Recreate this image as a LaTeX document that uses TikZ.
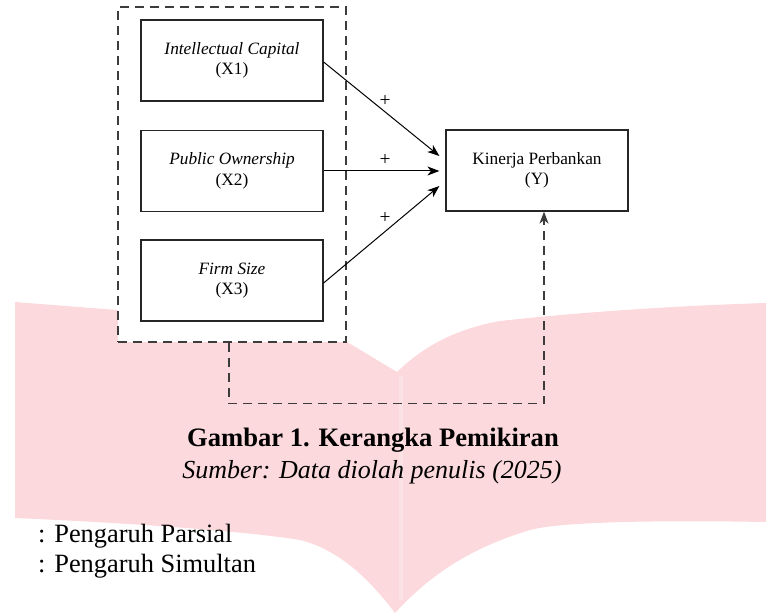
\documentclass[tikz,border=0pt]{standalone}
\usepackage{fontspec}
\setmainfont{Liberation Serif}
\usetikzlibrary{arrows.meta,calc}
\definecolor{wmpink}{RGB}{252,217,220}
\definecolor{wmspine}{RGB}{250,226,229}
\definecolor{dashgray}{RGB}{60,60,60}
\tikzset{
  varbox/.style={draw=black!85, line width=1.2pt, minimum width=182pt, minimum height=81pt,
    inner sep=0pt, align=center, font=\fontsize{17.3}{20.5}\selectfont},
  arr/.style={line width=1pt, -{Stealth[length=12pt,width=9pt,inset=3.5pt]}},
  dashln/.style={draw=dashgray, line width=1.3pt, dash pattern=on 9pt off 6pt},
  plus/.style={font=\fontsize{19.5}{22}\selectfont, inner sep=0pt},
  capt/.style={anchor=base, inner sep=0pt},
  legend/.style={anchor=base west, inner sep=0pt, font=\fontsize{26.4}{30}\selectfont},
}
\begin{document}
\begin{tikzpicture}[x=1pt,y=-1pt]
\useasboundingbox (0,0) rectangle (766,615);
% watermark (open book)
\fill[wmpink] (15,302) -- (117,310) .. controls (250,325) and (330,335) .. (347,342)
  -- (397,372) .. controls (420,350) and (450,330) .. (500,321)
  .. controls (600,310) and (700,305) .. (766,303) -- (766,522)
  .. controls (650,520) and (560,522) .. (530,530)
  .. controls (470,548) and (430,575) .. (395,613)
  .. controls (370,580) and (340,550) .. (300,540)
  .. controls (250,532) and (150,524) .. (15,518) -- cycle;
\draw[wmspine, line width=4pt] (401,376) -- (401,600);
% group box
\node[dashln, fill=white, minimum width=228pt, minimum height=335pt, inner sep=0pt] (grp) at (232,174.5) {};
% variable boxes
\node[varbox] (x1) at (232,60.5) {\raisebox{-4pt}{\begin{tabular}{@{}c@{}}\itshape Intellectual Capital\\(X1)\end{tabular}}};
\node[varbox] (x2) at (232,171) {\raisebox{-4pt}{\begin{tabular}{@{}c@{}}\itshape Public Ownership\\(X2)\end{tabular}}};
\node[varbox] (x3) at (232,280.5) {\raisebox{-4pt}{\begin{tabular}{@{}c@{}}\itshape Firm Size\\(X3)\end{tabular}}};
\node[varbox] (perf) at (537,170.5) {\raisebox{-2pt}{\begin{tabular}{@{}c@{}}Kinerja Perbankan\\(Y)\end{tabular}}};
% partial arrows
\draw[arr] ($(x1.east)+(0,1.5)$) -- ($(perf.west)+(-6,-14.5)$);
\draw[arr] (x2.east) -- ($(x2.east -| perf.west)+(-6,0)$);
\draw[arr] ($(x3.east)+(0,2.5)$) -- ($(perf.west)+(-6,15.5)$);
\node[plus] (p1) at (385,101) {+};
\node[plus] (p2) at (385,160) {+};
\node[plus] (p3) at (385,218) {+};
% simultaneous arrow
\coordinate (sim1) at ($(grp.south)+(-3,0)$);
\draw[dashln, -{Stealth[length=12pt,width=9pt,inset=3.5pt]}] (sim1) -- ++(0,61) -| ($(perf.south)+(7,0)$);
% caption
\node[capt, font=\fontsize{26.6}{30}\selectfont\bfseries] (cap) at (373,446) {Gambar 1. Kerangka Pemikiran};
\node[capt, font=\fontsize{26}{30}\selectfont\itshape] (src) at (372,478) {Sumber: Data diolah penulis (2025)};
% legend
\node[legend] (lg1) at (38,542) {: Pengaruh Parsial};
\node[legend] (lg2) at (38,572) {: Pengaruh Simultan};
\end{tikzpicture}
\end{document}
